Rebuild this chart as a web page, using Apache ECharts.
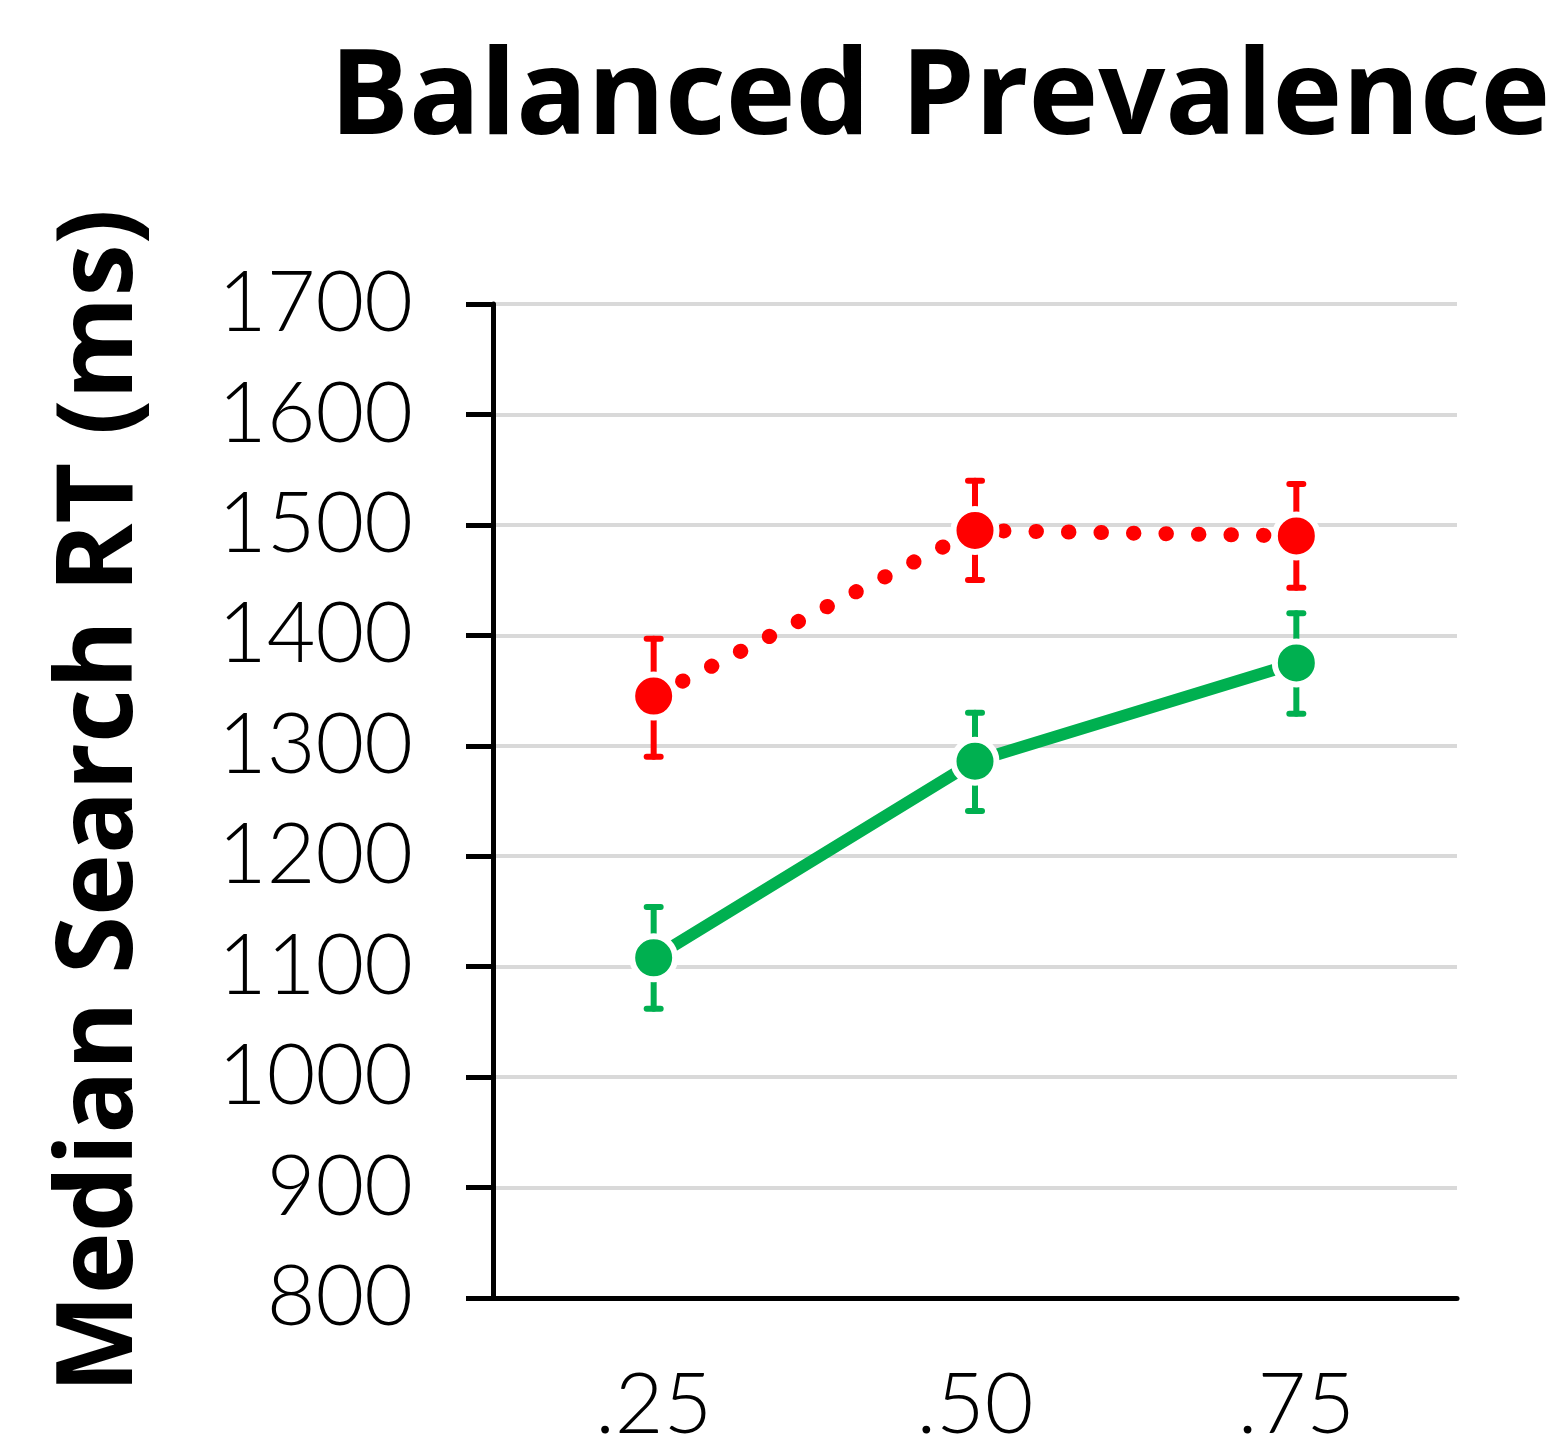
<!DOCTYPE html>
<html>
<head>
<meta charset="utf-8">
<script src="https://cdn.jsdelivr.net/npm/echarts@6/dist/echarts.min.js"></script>
<style>
  html, body { margin: 0; padding: 0; background: #fff; }
  #chart { width: 1550px; height: 1439px; }
</style>
</head>
<body>
<div id="chart"></div>
<script>
// Target prevalence levels on the x axis
const categories = ['.25', '.50', '.75'];

// Red condition: median RT with error-bar bounds
const redMean = [1345, 1495, 1490];
const redLow  = [1290, 1450, 1443];
const redHigh = [1397, 1540, 1537];

// Green condition: median RT with error-bar bounds
const greenMean = [1108, 1286, 1375];
const greenLow  = [1062, 1241, 1329];
const greenHigh = [1154, 1330, 1420];

const RED = '#FF0000';
const GREEN = '#00B050';
const TICK_FONT = 'Lato';
const BOLD_FONT = 'Open Sans';

function errorData(low, high) {
  return low.map((l, i) => [i, l, high[i]]);
}

function errorBars(color) {
  return function (params, api) {
    const idx = api.value(0);
    const lo = api.coord([idx, api.value(1)]);
    const hi = api.coord([idx, api.value(2)]);
    const half = 7;
    const style = { stroke: color, lineWidth: 6, lineCap: 'round' };
    return {
      type: 'group',
      children: [
        { type: 'line', shape: { x1: lo[0], y1: lo[1], x2: hi[0], y2: hi[1] }, style },
        { type: 'line', shape: { x1: lo[0] - half, y1: lo[1], x2: lo[0] + half, y2: lo[1] }, style },
        { type: 'line', shape: { x1: hi[0] - half, y1: hi[1], x2: hi[0] + half, y2: hi[1] }, style }
      ]
    };
  };
}

const chart = echarts.init(document.getElementById('chart'), null, { renderer: 'canvas' });

chart.setOption({
  animation: false,
  backgroundColor: '#ffffff',
  title: {
    text: 'Balanced Prevalence',
    left: 935,
    top: 36,
    textAlign: 'center',
    textStyle: { fontFamily: BOLD_FONT, fontWeight: 'bold', fontSize: 118, color: '#000' }
  },
  grid: { left: 493, right: 93, top: 304, bottom: 141, outerBoundsMode: 'none', containLabel: false },
  xAxis: {
    type: 'category',
    data: categories,
    boundaryGap: true,
    axisLine: { show: true, lineStyle: { color: '#000', width: 5 } },
    axisTick: { show: false },
    axisLabel: { margin: 66, fontFamily: TICK_FONT, fontWeight: 300, fontSize: 84, color: '#000' },
    splitLine: { show: false }
  },
  yAxis: {
    type: 'value',
    min: 800,
    max: 1700,
    interval: 100,
    name: 'Median Search RT (ms)',
    nameLocation: 'middle',
    nameRotate: 90,
    nameGap: 338,
    nameTextStyle: { fontFamily: BOLD_FONT, fontWeight: 'bold', fontSize: 105, color: '#000' },
    axisLine: { show: true, lineStyle: { color: '#000', width: 5 } },
    axisTick: { show: true, length: 27, lineStyle: { color: '#000', width: 5 } },
    axisLabel: {
      margin: 80,
      fontFamily: TICK_FONT,
      fontWeight: 300,
      fontSize: 84,
      color: '#000',
      formatter: v => String(v)
    },
    splitLine: { show: true, lineStyle: { color: '#D9D9D9', width: 4 } }
  },
  series: [
    {
      type: 'custom',
      renderItem: errorBars(RED),
      data: errorData(redLow, redHigh),
      z: 1
    },
    {
      type: 'custom',
      renderItem: errorBars(GREEN),
      data: errorData(greenLow, greenHigh),
      z: 1
    },
    {
      type: 'line',
      data: redMean,
      z: 3,
      symbol: 'circle',
      symbolSize: 43,
      itemStyle: { color: RED, borderColor: '#fff', borderWidth: 6 },
      lineStyle: { color: RED, width: 15, type: [0.5, 32], cap: 'round' }
    },
    {
      type: 'line',
      data: greenMean,
      z: 3,
      symbol: 'circle',
      symbolSize: 43,
      itemStyle: { color: GREEN, borderColor: '#fff', borderWidth: 6 },
      lineStyle: { color: GREEN, width: 12 }
    }
  ]
});
</script>
</body>
</html>
